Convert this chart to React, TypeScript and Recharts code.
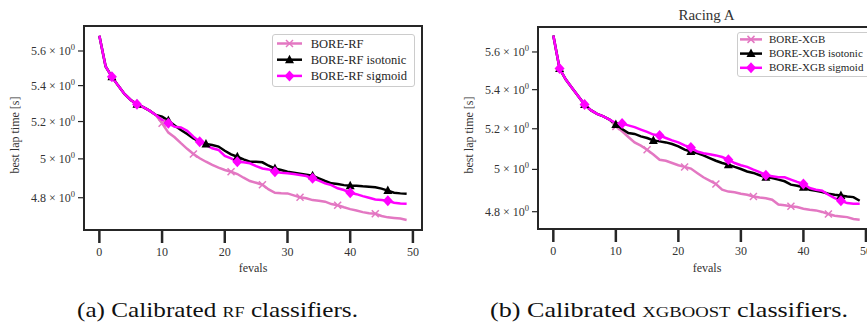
import { LineChart, Line, XAxis, YAxis, ReferenceArea, Legend } from 'recharts';

// evaluation index on the x axis
const fevals = Array.from({ length: 50 }, (_, i) => i);

// (a) calibrated RF classifiers
const rfPlain = [5.69, 5.51, 5.45, 5.40, 5.353, 5.319, 5.296, 5.279, 5.26, 5.236,
  5.191, 5.140, 5.115, 5.083, 5.053, 5.026, 5.003, 4.985, 4.968, 4.954,
  4.942, 4.933, 4.921, 4.902, 4.885, 4.876, 4.866, 4.842, 4.825, 4.823,
  4.822, 4.812, 4.802, 4.797, 4.788, 4.785, 4.780, 4.768, 4.762, 4.752,
  4.743, 4.736, 4.728, 4.722, 4.720, 4.709, 4.702, 4.699, 4.696, 4.689];
const rfIsotonic = [5.69, 5.51, 5.45, 5.40, 5.353, 5.319, 5.296, 5.279, 5.26, 5.236,
  5.227, 5.205, 5.179, 5.154, 5.132, 5.109, 5.091, 5.079, 5.073, 5.065,
  5.043, 5.024, 5.011, 4.997, 4.985, 4.985, 4.982, 4.964, 4.950, 4.942,
  4.933, 4.928, 4.923, 4.918, 4.912, 4.899, 4.885, 4.873, 4.870, 4.864,
  4.861, 4.861, 4.858, 4.856, 4.853, 4.846, 4.836, 4.825, 4.822, 4.820];
const rfSigmoid = [5.69, 5.51, 5.45, 5.40, 5.353, 5.319, 5.296, 5.279, 5.26, 5.236,
  5.209, 5.191, 5.172, 5.168, 5.150, 5.118, 5.091, 5.073, 5.056, 5.047,
  5.015, 5.003, 4.985, 4.982, 4.977, 4.962, 4.950, 4.945, 4.933, 4.928,
  4.925, 4.921, 4.916, 4.911, 4.899, 4.887, 4.873, 4.864, 4.848, 4.839,
  4.825, 4.818, 4.808, 4.800, 4.791, 4.788, 4.785, 4.775, 4.771, 4.770];

// (b) calibrated XGBoost classifiers
const xgbPlain = [5.69, 5.511, 5.453, 5.409, 5.366, 5.323, 5.294, 5.275, 5.263, 5.246,
  5.212, 5.187, 5.159, 5.132, 5.116, 5.096, 5.072, 5.047, 5.042, 5.031,
  5.020, 5.012, 5.004, 4.983, 4.962, 4.946, 4.930, 4.903, 4.894, 4.891,
  4.884, 4.879, 4.871, 4.866, 4.863, 4.856, 4.833, 4.830, 4.825, 4.822,
  4.814, 4.809, 4.806, 4.799, 4.789, 4.781, 4.778, 4.775, 4.766, 4.763];
const xgbIsotonic = [5.69, 5.511, 5.453, 5.409, 5.366, 5.323, 5.294, 5.275, 5.263, 5.246,
  5.221, 5.199, 5.179, 5.174, 5.162, 5.154, 5.142, 5.137, 5.132, 5.124,
  5.112, 5.096, 5.087, 5.079, 5.068, 5.055, 5.042, 5.031, 5.023, 5.012,
  5.002, 4.990, 4.983, 4.972, 4.962, 4.959, 4.951, 4.943, 4.927, 4.922,
  4.915, 4.903, 4.898, 4.892, 4.884, 4.879, 4.876, 4.871, 4.868, 4.851];
const xgbSigmoid = [5.69, 5.511, 5.453, 5.409, 5.366, 5.323, 5.294, 5.275, 5.263, 5.246,
  5.229, 5.226, 5.217, 5.208, 5.196, 5.184, 5.171, 5.166, 5.154, 5.142,
  5.132, 5.117, 5.107, 5.087, 5.079, 5.074, 5.068, 5.060, 5.047, 5.031,
  5.020, 5.012, 4.999, 4.987, 4.972, 4.967, 4.962, 4.962, 4.951, 4.940,
  4.930, 4.911, 4.903, 4.898, 4.879, 4.863, 4.851, 4.840, 4.837, 4.837];

// where matplotlib put the markers (markevery)
const rfMarks = { plain: [10, 15, 21, 26, 32, 38, 44], iso: [2, 6, 11, 17, 22, 28, 34, 40, 46], sig: [2, 6, 11, 16, 22, 28, 34, 40, 46] };
const xgbMarks = { plain: [10, 15, 21, 26, 32, 38, 44], iso: [1, 5, 10, 16, 22, 28, 34, 40, 46], sig: [1, 5, 11, 17, 22, 28, 34, 40, 46] };

const xTicks = [0, 10, 20, 30, 40, 50];
const yTicks = [4.8, 5.0, 5.2, 5.4, 5.6];
const rfNames = ['BORE-RF', 'BORE-RF isotonic', 'BORE-RF sigmoid'];
const xgbNames = ['BORE-XGB', 'BORE-XGB isotonic', 'BORE-XGB sigmoid'];

const PINK = '#e377c2';
const MAGENTA = '#ff00ff';
const BLACK = '#000000';
const INK = '#262626';
const FONT = '"Liberation Serif", "DejaVu Serif", serif';
const X_DOMAIN = [-2.45, 51.45];

const rfData = fevals.map((x, i) => ({ x, plain: rfPlain[i], iso: rfIsotonic[i], sig: rfSigmoid[i] }));
const xgbData = fevals.map((x, i) => ({ x, plain: xgbPlain[i], iso: xgbIsotonic[i], sig: xgbSigmoid[i] }));

const styles = [
  { key: 'plain', color: PINK, kind: 'x' },
  { key: 'iso', color: BLACK, kind: 'tri' },
  { key: 'sig', color: MAGENTA, kind: 'diamond' },
];

function Marker({ kind, cx, cy, color }) {
  if (kind === 'x') {
    const r = 3.5;
    return (
      <g stroke={color} strokeWidth={1.5}>
        <line x1={cx - r} y1={cy - r} x2={cx + r} y2={cy + r} />
        <line x1={cx - r} y1={cy + r} x2={cx + r} y2={cy - r} />
      </g>
    );
  }
  if (kind === 'tri') {
    return <polygon points={`${cx},${cy - 5} ${cx - 4.5},${cy + 3.5} ${cx + 4.5},${cy + 3.5}`} fill={color} />;
  }
  return <polygon points={`${cx},${cy - 5.5} ${cx + 5},${cy} ${cx},${cy + 5.5} ${cx - 5},${cy}`} fill={color} />;
}

function makeDot(kind, color, marks) {
  return (props) => {
    const { cx, cy, index } = props;
    if (!marks.includes(index)) return <g key={`n-${index}`} />;
    return <Marker key={`m-${index}`} kind={kind} cx={cx} cy={cy} color={color} />;
  };
}

function YTick({ x, y, payload }) {
  const v = payload.value;
  const base = Math.abs(v - 5) < 1e-9 ? '5' : v.toFixed(1);
  return (
    <text x={x} y={y} dy={4} textAnchor="end" fill="#333" fontSize={12} fontFamily={FONT}>
      {base} × 10<tspan dy={-5} fontSize={8.5}>0</tspan>
    </text>
  );
}

function LegendBox({ names, w, h, firstY, step, lineX1, lineX2, textX, fontSize }) {
  return (
    <svg width={w} height={h} style={{ display: 'block' }}>
      <rect x={0.5} y={0.5} width={w - 1} height={h - 1} rx={2.5} fill="#ffffff" fillOpacity={0.8} stroke="#cccccc" />
      {styles.map((s, i) => {
        const y = firstY + i * step;
        return (
          <g key={s.key}>
            <line x1={lineX1} x2={lineX2} y1={y} y2={y} stroke={s.color} strokeWidth={2.5} />
            <Marker kind={s.kind} cx={(lineX1 + lineX2) / 2} cy={y} color={s.color} />
            <text x={textX} y={y} dy={fontSize * 0.33} fontSize={fontSize} fontFamily={FONT} fill={INK}>{names[i]}</text>
          </g>
        );
      })}
    </svg>
  );
}

function Panel({ data, marks, names, yDomain, margin, yWidth, xHeight, legendPos, legendProps }) {
  return (
    <LineChart width={440} height={290} data={data} margin={margin}>
      <XAxis
        type="number" dataKey="x" domain={X_DOMAIN} allowDataOverflow ticks={xTicks}
        axisLine={false} tickSize={13} tickMargin={4} height={xHeight}
        tickLine={{ stroke: INK, strokeWidth: 2.5 }}
        tick={{ fill: '#333', fontSize: 12, fontFamily: FONT }}
      />
      <YAxis
        type="number" scale="log" domain={yDomain} allowDataOverflow ticks={yTicks}
        axisLine={false} tickSize={6} tickMargin={3} width={yWidth}
        tickLine={{ stroke: INK, strokeWidth: 1.2 }} tick={<YTick />}
      />
      {styles.map((s) => (
        <Line
          key={s.key} type="linear" dataKey={s.key} stroke={s.color} strokeWidth={2.5}
          dot={makeDot(s.kind, s.color, marks[s.key])} activeDot={false} isAnimationActive={false}
        />
      ))}
      <ReferenceArea
        x1={X_DOMAIN[0]} x2={X_DOMAIN[1]} y1={yDomain[0]} y2={yDomain[1]}
        fill="none" stroke={INK} strokeWidth={2} ifOverflow="visible"
      />
      <Legend
        layout="horizontal" verticalAlign="middle" align="center"
        wrapperStyle={{ ...legendPos, margin: 0, padding: 0 }}
        content={() => <LegendBox names={names} {...legendProps} />}
      />
    </LineChart>
  );
}

export default function App() {
  return (
    <div style={{ position: 'fixed', left: 0, top: 0, width: 867, height: 327, overflow: 'hidden', background: '#fff', fontFamily: FONT }}>
      <div style={{ position: 'absolute', left: 0, top: 0 }}>
        <Panel
          data={rfData} marks={rfMarks} names={rfNames} yDomain={[4.64, 5.749]}
          margin={{ top: 26, right: 18, bottom: 0, left: 0 }} yWidth={84} xHeight={60}
          legendPos={{ left: 272, top: 34, width: 143, height: 53 }}
          legendProps={{ w: 143, h: 53, firstY: 9.5, step: 16.2, lineX1: 5, lineX2: 30, textX: 38.7, fontSize: 12.5 }}
        />
      </div>
      <div style={{ position: 'absolute', left: 440, top: 0 }}>
        <Panel
          data={xgbData} marks={xgbMarks} names={xgbNames} yDomain={[4.7205, 5.7366]}
          margin={{ top: 27, right: 5, bottom: 0, left: 0 }} yWidth={98} xHeight={61}
          legendPos={{ left: 297, top: 32, width: 140, height: 45 }}
          legendProps={{ w: 140, h: 45, firstY: 7.4, step: 14.2, lineX1: 3, lineX2: 25, textX: 32, fontSize: 11 }}
        />
      </div>
      <svg width={867} height={327} style={{ position: 'absolute', left: 0, top: 0, pointerEvents: 'none' }}>
        <text x={706.5} y={20} textAnchor="middle" fontSize={15} fontFamily={FONT} fill="#333">Racing A</text>
        <text transform="translate(15,135) rotate(-90)" textAnchor="middle" dominantBaseline="central" fontSize={12} fontFamily={FONT} fill="#333">best lap time [s]</text>
        <text transform="translate(469,135) rotate(-90)" textAnchor="middle" dominantBaseline="central" fontSize={12} fontFamily={FONT} fill="#333">best lap time [s]</text>
        <text x={253} y={272} textAnchor="middle" fontSize={12} fontFamily={FONT} fill="#333">fevals</text>
        <text x={707} y={272} textAnchor="middle" fontSize={12} fontFamily={FONT} fill="#333">fevals</text>
        <text x={77} y={317} fontSize={21} fontFamily={FONT} fill="#111" textLength={281} lengthAdjust="spacingAndGlyphs">
          (a) Calibrated <tspan style={{ fontVariant: 'small-caps' }}>rf</tspan> classifiers.
        </text>
        <text x={490} y={317} fontSize={21} fontFamily={FONT} fill="#111" textLength={358} lengthAdjust="spacingAndGlyphs">
          (b) Calibrated <tspan style={{ fontVariant: 'small-caps' }}>xgboost</tspan> classifiers.
        </text>
      </svg>
    </div>
  );
}
